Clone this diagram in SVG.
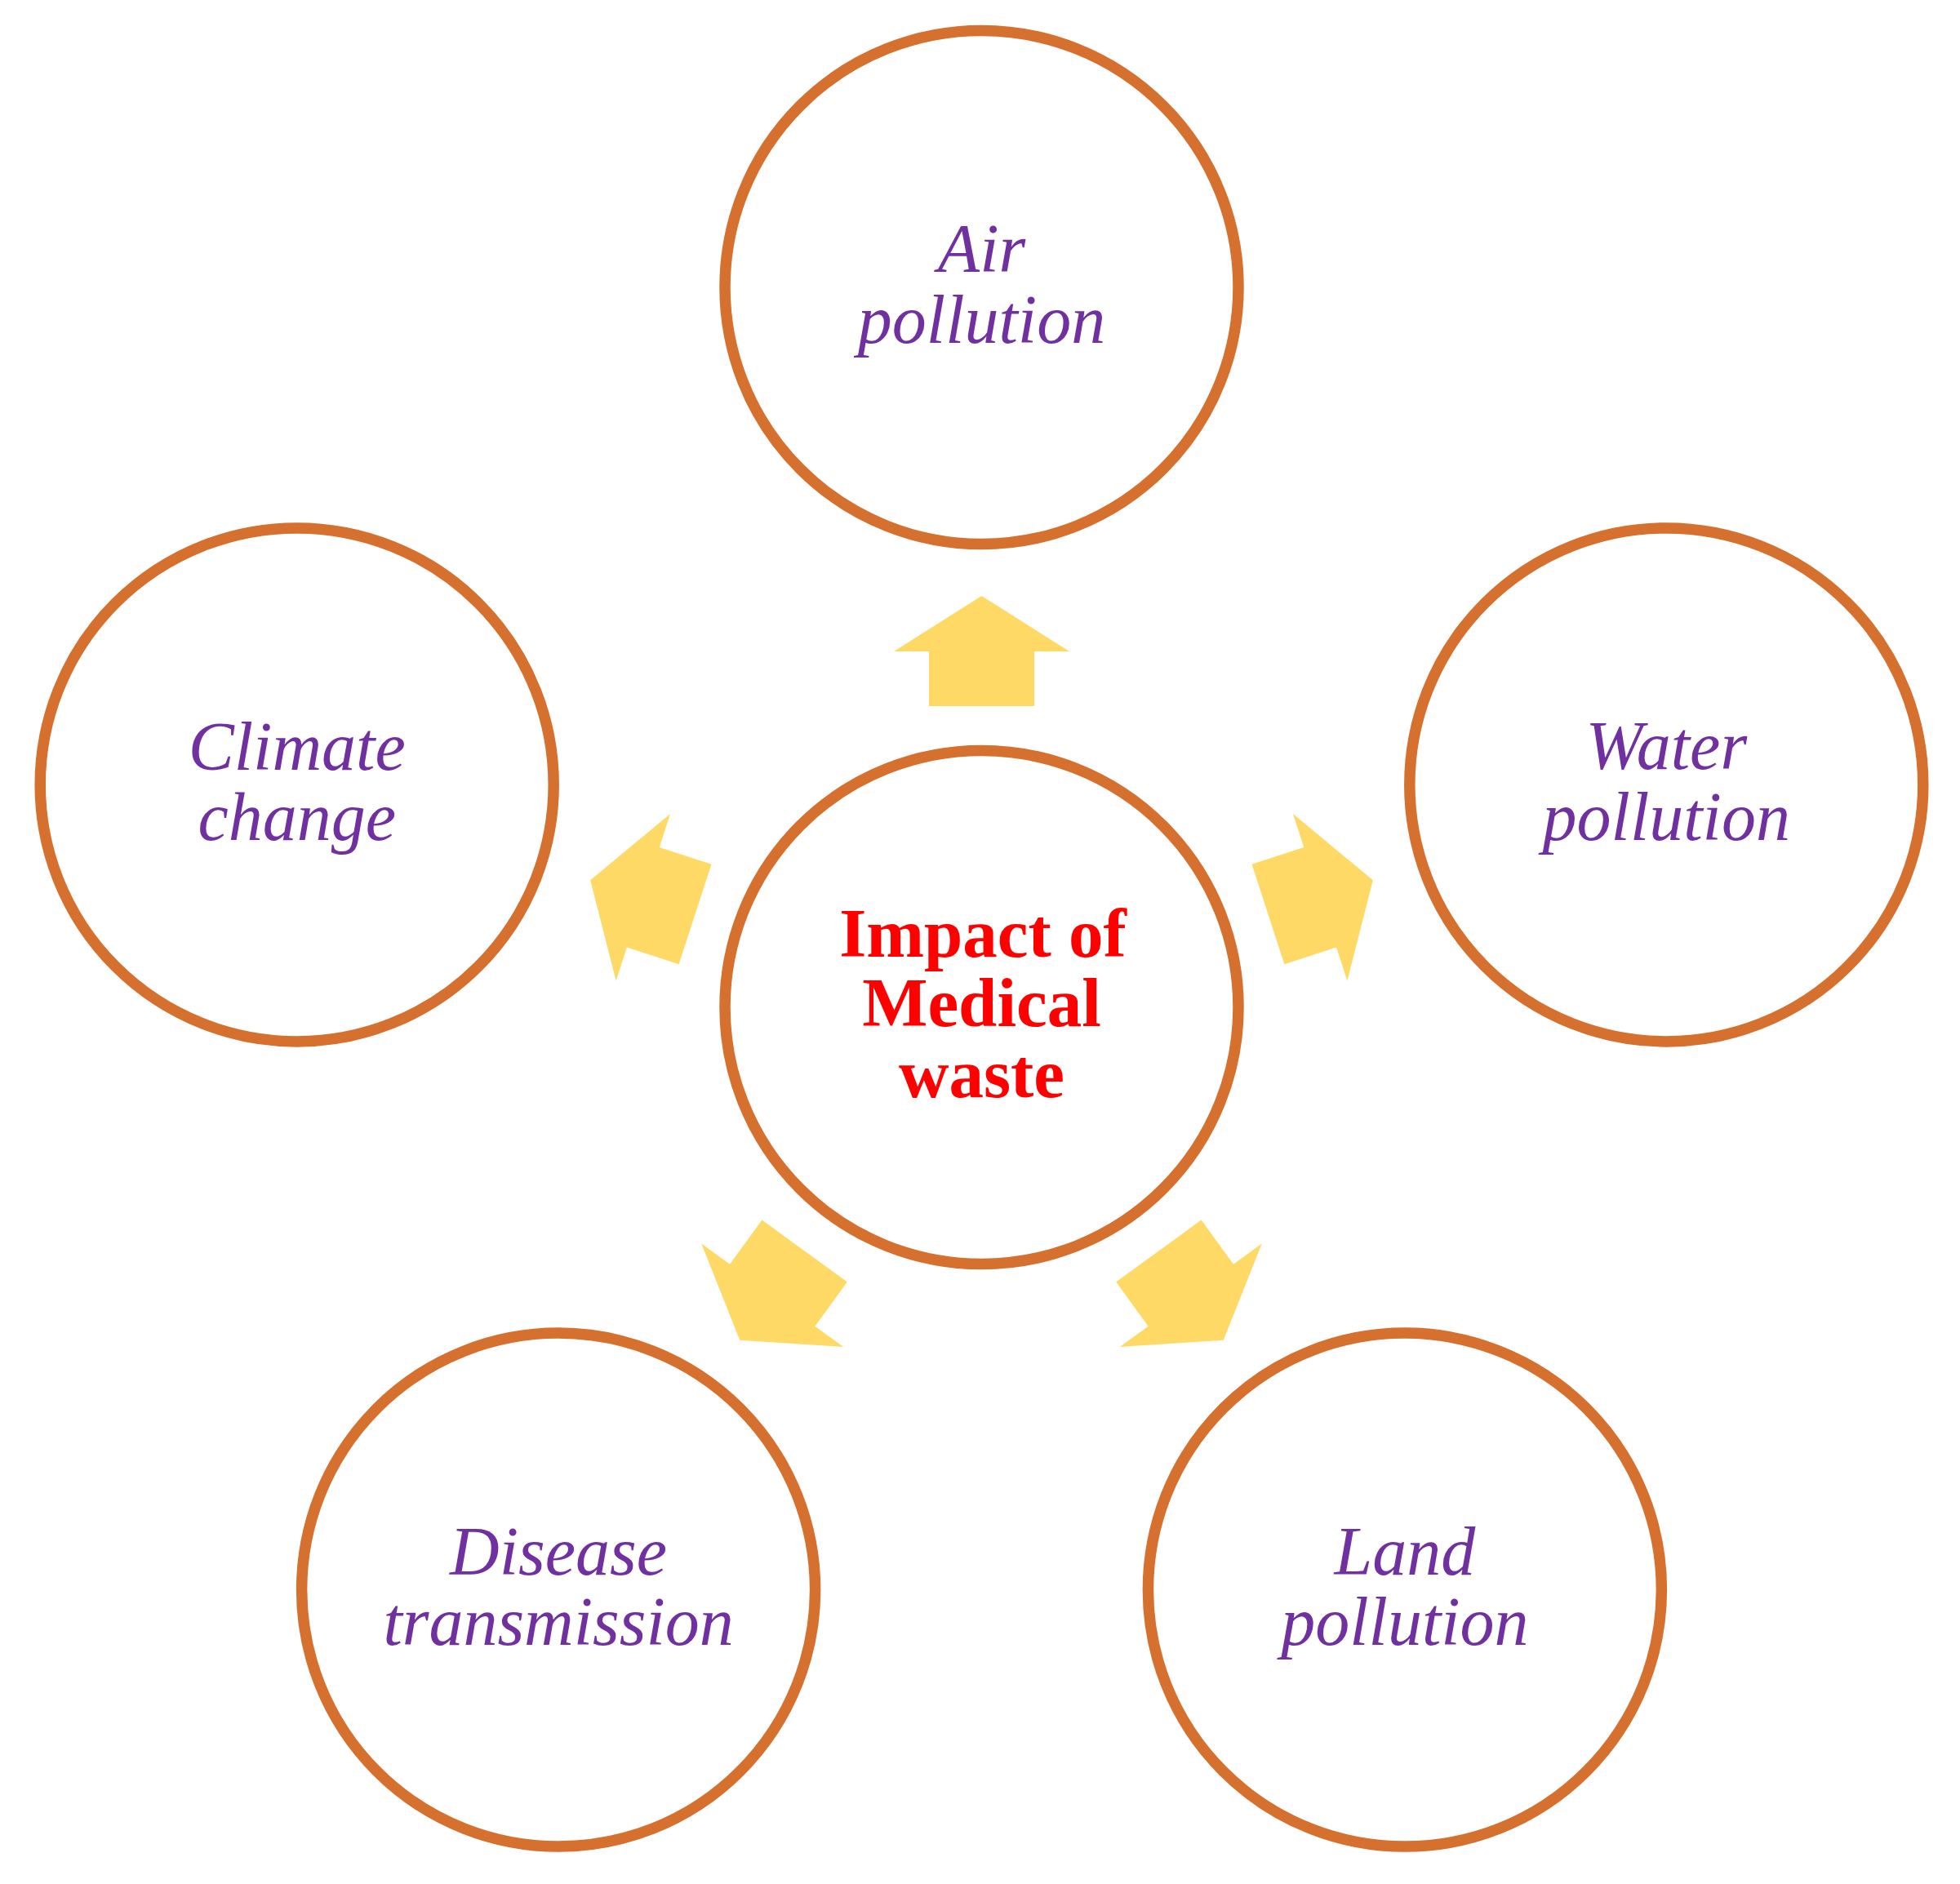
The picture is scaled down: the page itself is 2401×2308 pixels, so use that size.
<svg xmlns="http://www.w3.org/2000/svg" width="2401" height="2308" viewBox="0 0 2401 2308">
<style>
.node{fill:#FFFFFF;stroke:#D6702E;stroke-width:13.5}
.lbl{font-family:"Liberation Serif","Times New Roman",serif;font-style:italic;font-size:84px;fill:#7030A0;text-anchor:middle}
.ctr{font-family:"Liberation Serif","Times New Roman",serif;font-weight:bold;font-size:85px;fill:#FF0000;text-anchor:middle}
.arr{fill:#FFD966;stroke:none}
</style>
<defs>
<polygon id="arrow" class="arr" points="1202.5,730 1310,798 1267,798 1267,865 1138,865 1138,798 1095,798"/>
</defs>
<rect width="2401" height="2308" fill="#FFFFFF"/>
<g id="connectors">
<use href="#arrow"/>
<use href="#arrow" transform="rotate(72 1202.5 1234)"/>
<use href="#arrow" transform="rotate(144 1202.5 1234)"/>
<use href="#arrow" transform="rotate(216 1202.5 1234)"/>
<use href="#arrow" transform="rotate(288 1202.5 1234)"/>
</g>
<g id="center">
<circle class="node" cx="1202.5" cy="1234" r="314.5"/>
<text class="ctr" x="1204" y="1172">Impact of</text>
<text class="ctr" x="1202.5" y="1257">Medical</text>
<text class="ctr" x="1202.5" y="1344">waste</text>
</g>
<g id="air">
<circle class="node" cx="1202.5" cy="352" r="314.5"/>
<text class="lbl" x="1202.5" y="333">Air</text>
<text class="lbl" x="1202.5" y="420">pollution</text>
</g>
<g id="water">
<circle class="node" cx="2041.3" cy="961.4" r="314.5"/>
<text class="lbl" x="2041.3" y="942">Water</text>
<text class="lbl" x="2041.3" y="1029">pollution</text>
</g>
<g id="land">
<circle class="node" cx="1720.9" cy="1947.6" r="314.5"/>
<text class="lbl" x="1720.9" y="1929">Land</text>
<text class="lbl" x="1720.9" y="2015">pollution</text>
</g>
<g id="disease">
<circle class="node" cx="684.1" cy="1947.6" r="314.5"/>
<text class="lbl" x="684.1" y="1929">Disease</text>
<text class="lbl" x="684.1" y="2015">transmission</text>
</g>
<g id="climate">
<circle class="node" cx="363.7" cy="961.4" r="314.5"/>
<text class="lbl" x="363.7" y="943">Climate</text>
<text class="lbl" x="363.7" y="1029">change</text>
</g>
</svg>
